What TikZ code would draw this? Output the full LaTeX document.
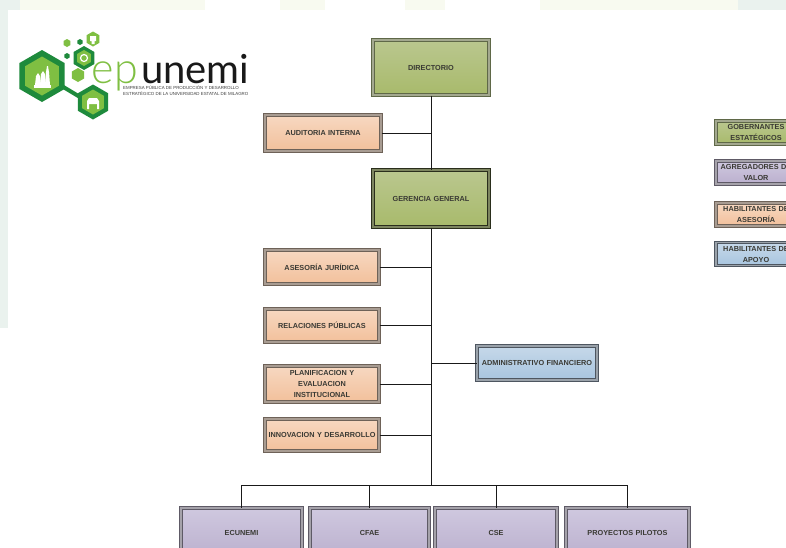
\documentclass[tikz,border=0pt]{standalone}
\usepackage{fontspec}
\setmainfont{Liberation Sans}
\newfontfamily\logofont{Lato Light}
\newfontfamily\logofontb{Lato}
\usetikzlibrary{shadows,shapes.geometric}
\definecolor{txt}{HTML}{3A3A34}
\definecolor{gA}{HTML}{BAC78F}\definecolor{gB}{HTML}{A8BA6B}
\definecolor{pA}{HTML}{F7D8C1}\definecolor{pB}{HTML}{F2C09B}
\definecolor{vA}{HTML}{CFC8DF}\definecolor{vB}{HTML}{BBB0CE}
\definecolor{bA}{HTML}{C6D8E9}\definecolor{bB}{HTML}{A8C5DF}
\definecolor{logoD}{HTML}{1E8A3C}\definecolor{logoL}{HTML}{7FBF42}
\definecolor{tintA}{HTML}{EAF2EE}\definecolor{tintB}{HTML}{F8FAF0}
\definecolor{olD}{HTML}{5F6848}\definecolor{olM}{HTML}{A3A88F}
\definecolor{olK}{HTML}{2A2E1C}\definecolor{olN}{HTML}{7D8560}
\definecolor{brD}{HTML}{6E6258}\definecolor{brM}{HTML}{A89C92}
\definecolor{vioD}{HTML}{5E5A66}\definecolor{vioM}{HTML}{A5A2AA}
\definecolor{bluD}{HTML}{4E5660}\definecolor{bluM}{HTML}{9AA2AA}
\tikzset{
  x=1pt,y=-1pt,
  orgbox/.style n args={2}{draw=#1,line width=1pt,double=#2,double distance=1.2pt,inner sep=1pt,align=center,
    font=\fontsize{7.3}{11}\selectfont\bfseries,text=txt,
    drop shadow={shadow xshift=1.5pt,shadow yshift=-1.5pt,fill=black!30,opacity=.35}},
  wh/.style n args={2}{minimum width=#1pt,minimum height=#2pt,text width=#1pt},
  gbox/.style={orgbox={olD}{olM},top color=gA,bottom color=gB},
  gbox2/.style={orgbox={olK}{olN},top color=gA,bottom color=gB},
  pbox/.style={orgbox={brD}{brM},top color=pA,bottom color=pB},
  vbox/.style={orgbox={vioD}{vioM},top color=vA,bottom color=vB},
  abox/.style={orgbox={bluD}{bluM},top color=bA,bottom color=bB},
  link/.style={line width=1pt,draw=black!90},
  hexd/.style={regular polygon,regular polygon sides=6,shape border rotate=30,fill=logoD,inner sep=0},
  hexl/.style={regular polygon,regular polygon sides=6,shape border rotate=30,fill=logoL,inner sep=0},
}
\begin{document}
\begin{tikzpicture}
\useasboundingbox (0,0) rectangle (786,547);
\clip (0,0) rectangle (786,547);
% page tint
\fill[white] (0,0) rectangle (786,547);
\fill[tintA] (0,0) rectangle (8,328);
\fill[tintA] (0,0) rectangle (20,10);
\fill[tintB] (20,0) rectangle (205,10);
\fill[tintB] (280,0) rectangle (325,10);
\fill[tintB] (405,0) rectangle (445,10);
\fill[tintB] (540,0) rectangle (738,10);
\fill[tintA] (738,0) rectangle (786,10);
% logo
\draw[logoD,line width=4pt] (60,85) -- (80,97);
\node[hexd,minimum size=52pt] (h1) at (42,76) {};
\node[hexl,minimum size=39pt] (h1i) at (42,76) {};
\node[hexd,minimum size=24pt] (h2) at (84,58) {};
\node[hexl,minimum size=16pt] (h2i) at (84,58) {};
\node[hexd,minimum size=35pt] (h3) at (93,102) {};
\node[hexl,minimum size=25pt] (h3i) at (93,102) {};
\node[hexl,minimum size=14pt] (h4) at (78,75) {};
\node[hexl,minimum size=15pt] (h5) at (93,39) {};
\node[hexl,minimum size=8pt] (h6) at (67,43) {};
\node[hexd,minimum size=6pt] (h7) at (80,42) {};
\node[hexd,minimum size=6pt] (h8) at (67,56) {};
\draw[white,line width=1.2pt] (84,58) circle (3.5);
\fill[white] (90,36) rectangle (96,41) (91.5,41) rectangle (94.5,44);
\fill[white] (34,85) rectangle (51,88);
\fill[white] (35,85) -- (36,76) -- (38,73) -- (40,76) -- (41,85) -- cycle;
\fill[white] (40,85) -- (41,74) -- (43,71) -- (45,74) -- (46,85) -- cycle;
\fill[white] (45,85) -- (46,72) -- (47,66) -- (48,66) -- (49,72) -- (50,85) -- cycle;
\fill[white] (87,109) -- (87,101) -- (89,98) -- (97,98) -- (99,101) -- (99,109) -- (97,109) -- (97,104) -- (89,104) -- (89,109) -- cycle;
\node[anchor=base west,inner sep=0,font=\logofont\fontsize{43}{43}\selectfont,text=logoL] (lge) at (91.5,83) {ep};
\node[anchor=base west,inner sep=0,font=\logofontb\fontsize{40}{40}\selectfont,text=black!90] (lgu) at (141,83) {unemi};
\node[anchor=west,inner sep=0,align=left,font=\fontsize{4.4}{5.6}\selectfont,text=black!75] (lgs) at (123,90.5)
  {EMPRESA PÚBLICA DE PRODUCCIÓN Y DESARROLLO\\ESTRATÉGICO DE LA UNIVERSIDAD ESTATAL DE MILAGRO};
% org nodes
\node[gbox,wh={114}{55}] (dir) at (431,67.5) {DIRECTORIO};
\node[pbox,wh={114}{36}] (aud) at (323,133) {AUDITORIA INTERNA};
\node[gbox2,wh={114}{57}] (ger) at (431,198.5) {GERENCIA GENERAL};
\node[pbox,wh={112}{34}] (ase) at (322,267) {ASESORÍA JURÍDICA};
\node[pbox,wh={112}{33}] (rel) at (322,325.5) {RELACIONES PÚBLICAS};
\node[pbox,wh={112}{36}] (pla) at (322,384) {PLANIFICACION Y\\EVALUACION\\INSTITUCIONAL};
\node[pbox,wh={112}{32}] (inn) at (322,435) {INNOVACION Y DESARROLLO};
\node[abox,wh={118}{34}] (adm) at (537,363) {ADMINISTRATIVO FINANCIERO};
\node[vbox,wh={119}{50}] (ecu) at (241.5,533) {ECUNEMI};
\node[vbox,wh={117}{50}] (cfa) at (369.5,533) {CFAE};
\node[vbox,wh={120}{50}] (cse) at (496,533) {CSE};
\node[vbox,wh={121}{50}] (pro) at (627.5,533) {PROYECTOS PILOTOS};
% legend
\node[gbox,wh={78}{23}] (l1) at (756,132.5) {GOBERNANTES\\ESTATÉGICOS};
\node[vbox,wh={78}{23}] (l2) at (756,172.5) {AGREGADORES DE\\VALOR};
\node[pbox,wh={78}{23}] (l3) at (756,214.5) {HABILITANTES DE\\ASESORÍA};
\node[abox,wh={78}{23}] (l4) at (756,254) {HABILITANTES DE\\APOYO};
% connectors
\coordinate (bus) at (431,485);
\draw[link] (dir.south) -- (ger.north);
\draw[link] (ger.south) -- (bus);
\draw[link] (aud.east) -- (aud.east -| dir.south);
\draw[link] (ase.east) -- (ase.east -| ger.south);
\draw[link] (rel.east) -- (rel.east -| ger.south);
\draw[link] (pla.east) -- (pla.east -| ger.south);
\draw[link] (inn.east) -- (inn.east -| ger.south);
\draw[link] (adm.west) -- (adm.west -| ger.south);
\draw[link] (bus) -| (ecu.north);
\draw[link] (bus) -| (cfa.north);
\draw[link] (bus) -| (cse.north);
\draw[link] (bus) -| (pro.north);
\end{tikzpicture}
\end{document}
